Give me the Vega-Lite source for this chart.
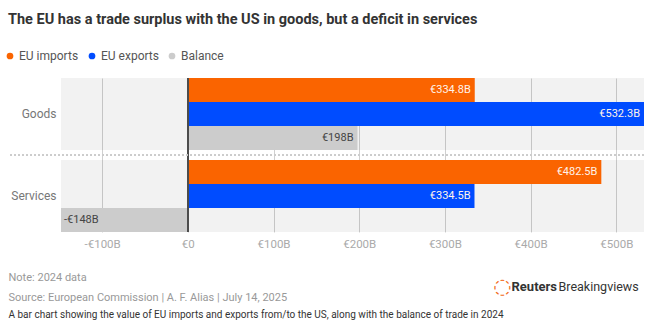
{
  "$schema": "https://vega.github.io/schema/vega-lite/v6.json",
  "width": 583,
  "height": 154,
  "autosize": {"type": "none"},
  "padding": {"left": 61, "top": 78, "right": 17, "bottom": 98},
  "background": "white",
  "config": {"view": {"stroke": null}, "font": "Roboto"},
  "title": {
    "text": "The EU has a trade surplus with the US in goods, but a deficit in services",
    "anchor": "start",
    "frame": "group",
    "dx": -53,
    "offset": 23,
    "fontSize": 14.5,
    "fontWeight": "bold",
    "color": "#333333"
  },
  "data": {
    "values": [
      {"category": "Goods", "series": "EU imports", "value": 334.8, "label": "€334.8B"},
      {"category": "Goods", "series": "EU exports", "value": 532.3, "label": "€532.3B"},
      {"category": "Goods", "series": "Balance", "value": 198, "label": "€198B"},
      {"category": "Services", "series": "EU imports", "value": 482.5, "label": "€482.5B"},
      {"category": "Services", "series": "EU exports", "value": 334.5, "label": "€334.5B"},
      {"category": "Services", "series": "Balance", "value": -148, "label": "-€148B"}
    ]
  },
  "resolve": {"axis": {"x": "independent", "y": "independent"}},
  "layer": [
    {
      "transform": [{"filter": "datum.series === 'EU imports'"}],
      "mark": {"type": "rect", "color": "#000000", "opacity": 0.05},
      "encoding": {
        "y": {
          "field": "category", "type": "nominal",
          "scale": {"domain": ["Goods", "Services"], "paddingInner": 0.122, "paddingOuter": 0},
          "axis": {"orient": "right", "labels": false, "ticks": false, "domain": false, "grid": false,
            "title": "◌", "titleFont": "DejaVu Sans", "titleAngle": 0, "titleX": -142, "titleY": 208,
            "titleAlign": "center", "titleBaseline": "middle", "titleFontSize": 21, "titleFontWeight": "normal", "titleColor": "#f26a21"}
        },
        "x": {
          "datum": -148, "type": "quantitative",
          "scale": {"domain": [-148, 532.3], "nice": false, "zero": false},
          "axis": {"orient": "bottom", "labels": false, "ticks": false, "domain": false, "grid": false,
            "title": "A bar chart showing the value of EU imports and exports from/to the US, along with the balance of trade in 2024",
            "titleX": -53, "titleY": 85, "titleAlign": "left", "titleAnchor": "start", "titleBaseline": "alphabetic",
            "titleFontSize": 10, "titleFontWeight": "normal", "titleColor": "#333333"}
        },
        "x2": {"datum": 532.3}
      }
    },
    {
      "mark": {"type": "bar"},
      "encoding": {
        "y": {
          "field": "category", "type": "nominal",
          "axis": {"orient": "left", "title": null, "domain": false, "ticks": false, "labelPadding": 5, "labelFontSize": 12, "labelColor": "#777777"}
        },
        "yOffset": {
          "field": "series", "type": "nominal",
          "scale": {"domain": ["EU imports", "EU exports", "Balance"], "paddingInner": 0, "paddingOuter": 0}
        },
        "x": {
          "field": "value", "type": "quantitative",
          "axis": {
            "orient": "bottom",
            "values": [-100, 0, 100, 200, 300, 400, 500],
            "grid": true, "gridColor": "#d0d0d0", "domain": false, "ticks": false,
            "labelExpr": "datum.value < 0 ? '-€' + abs(datum.value) + 'B' : (datum.value == 0 ? '€0' : '€' + datum.value + 'B')",
            "labelColor": "#aaaaaa", "labelFontSize": 11.5, "labelPadding": 6,
            "title": ["Note: 2024 data", "Source: European Commission | A. F. Alias | July 14, 2025"],
            "titleX": -53, "titleY": 48, "titleAlign": "left", "titleAnchor": "start", "titleBaseline": "alphabetic",
            "titleLineHeight": 20, "titleFontSize": 11, "titleFontWeight": "normal", "titleColor": "#999999"
          }
        },
        "color": {
          "field": "series", "type": "nominal",
          "scale": {"domain": ["EU imports", "EU exports", "Balance"], "range": ["#fa6400", "#004cff", "#cccccc"]},
          "legend": {
            "orient": "none", "legendX": -57, "legendY": -28, "direction": "horizontal", "title": null,
            "symbolType": "circle", "symbolSize": 45, "symbolStrokeWidth": 0,
            "labelFontSize": 12, "labelColor": "#555555", "labelOffset": 3, "columnPadding": 7, "padding": 0
          }
        }
      }
    },
    {
      "mark": {"type": "rule", "color": "#4d4d4d", "strokeWidth": 1.5},
      "encoding": {"x": {"datum": 0, "type": "quantitative", "axis": null}}
    },
    {
      "mark": {"type": "rule", "color": "#cccccc", "strokeWidth": 1, "strokeDash": [2, 2]},
      "encoding": {
        "y": {"datum": "Services", "type": "nominal", "bandPosition": -0.0694, "axis": null},
        "x": {"datum": -207.5, "type": "quantitative", "axis": null},
        "x2": {"datum": 532.3}
      }
    },
    {
      "transform": [{"filter": "datum.value >= 0"}],
      "mark": {"type": "text", "align": "right", "baseline": "middle", "dx": -4, "fontSize": 11},
      "encoding": {
        "y": {
          "field": "category", "type": "nominal",
          "axis": {"orient": "right", "labels": false, "ticks": false, "domain": false, "grid": false,
            "title": "Reuters", "titleAngle": 0, "titleX": -133, "titleY": 208,
            "titleAlign": "left", "titleBaseline": "middle", "titleFontSize": 13, "titleFontWeight": "bold", "titleColor": "#333333"}
        },
        "yOffset": {"field": "series", "type": "nominal"},
        "x": {"field": "value", "type": "quantitative", "axis": null},
        "text": {"field": "label"},
        "color": {"condition": {"test": "datum.series === 'Balance'", "value": "#444444"}, "value": "#fff3ea"}
      }
    },
    {
      "transform": [{"filter": "datum.value < 0"}],
      "mark": {"type": "text", "align": "left", "baseline": "middle", "dx": 3, "fontSize": 11, "color": "#444444"},
      "encoding": {
        "y": {
          "field": "category", "type": "nominal",
          "axis": {"orient": "right", "labels": false, "ticks": false, "domain": false, "grid": false,
            "title": "Breakingviews", "titleAngle": 0, "titleX": -86, "titleY": 208,
            "titleAlign": "left", "titleBaseline": "middle", "titleFontSize": 12.5, "titleFontWeight": "normal", "titleColor": "#333333"}
        },
        "yOffset": {"field": "series", "type": "nominal"},
        "x": {"field": "value", "type": "quantitative", "axis": null},
        "text": {"field": "label"}
      }
    }
  ]
}
